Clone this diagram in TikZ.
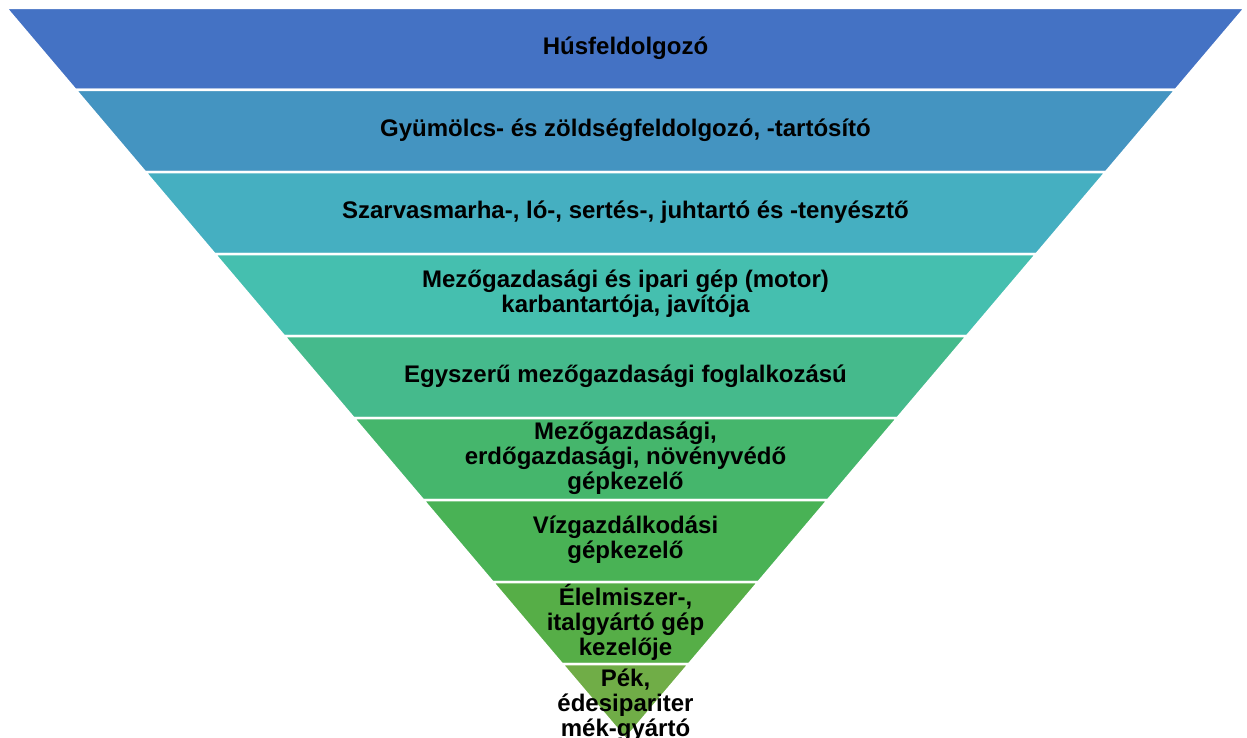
\documentclass[tikz,border=0pt]{standalone}
\usepackage{fontspec}
\setmainfont{Liberation Sans}
\usepackage{tikz}
\usetikzlibrary{calc}

\definecolor{lvlA}{HTML}{4472C4}
\definecolor{lvlB}{HTML}{4494C1}
\definecolor{lvlC}{HTML}{45AFC1}
\definecolor{lvlD}{HTML}{45BFAF}
\definecolor{lvlE}{HTML}{45BA8C}
\definecolor{lvlF}{HTML}{45B66C}
\definecolor{lvlG}{HTML}{49B255}
\definecolor{lvlH}{HTML}{56AE47}
\definecolor{lvlI}{HTML}{70AD47}

\begin{document}
\begin{tikzpicture}[x=0.5pt, y=-0.5pt,
    layer/.style={draw=white, line width=1.25pt, line join=miter},
    label/.style={align=center, font=\bfseries\fontsize{12}{12.5}\selectfont, inner sep=0pt}]
    \useasboundingbox (0,0) rectangle (1247,738);
    \begin{scope}
    \clip (0,0) rectangle (1247,738);

    % layers of the funnel
    \filldraw[layer, fill=lvlA] (6,8) -- (1245,8) -- (1175.5,90) -- (75.5,90) -- cycle;
    \filldraw[layer, fill=lvlB] (75.5,90) -- (1175.5,90) -- (1106,172) -- (145,172) -- cycle;
    \filldraw[layer, fill=lvlC] (145,172) -- (1106,172) -- (1036.5,254) -- (214.5,254) -- cycle;
    \filldraw[layer, fill=lvlD] (214.5,254) -- (1036.5,254) -- (967,336) -- (284,336) -- cycle;
    \filldraw[layer, fill=lvlE] (284,336) -- (967,336) -- (897.5,418) -- (353.5,418) -- cycle;
    \filldraw[layer, fill=lvlF] (353.5,418) -- (897.5,418) -- (828,500) -- (423,500) -- cycle;
    \filldraw[layer, fill=lvlG] (423,500) -- (828,500) -- (758.5,582) -- (492.5,582) -- cycle;
    \filldraw[layer, fill=lvlH] (492.5,582) -- (758.5,582) -- (689.1,664) -- (561.9,664) -- cycle;
    \filldraw[layer, fill=lvlI] (561.9,664) -- (689.1,664) -- (625.5,739) -- cycle;

    % texts
    \node[label] (husf) at (625.5,48) {Húsfeldolgozó};
    \node[label] (gyum) at (625.5,130) {Gyümölcs- és zöldségfeldolgozó, -tartósító};
    \node[label] (szarv) at (625.5,212) {Szarvasmarha-, ló-, sertés-, juhtartó és -tenyésztő};
    \node[label] (gep) at (625.5,294) {Mezőgazdasági és ipari gép (motor)\\karbantartója, javítója};
    \node[label] (egysz) at (625.5,376) {Egyszerű mezőgazdasági foglalkozású};
    \node[label] (erdo) at (625.5,458) {Mezőgazdasági,\\erdőgazdasági, növényvédő\\gépkezelő};
    \node[label] (viz) at (625.5,540) {Vízgazdálkodási\\gépkezelő};
    \node[label] (elelm) at (625.5,622) {Élelmiszer-,\\italgyártó gép\\kezelője};
    \node[label] (pek) at (625.5,705) {Pék,\\édesipariter\\mék-gyártó};
    \end{scope}
\end{tikzpicture}
\end{document}
